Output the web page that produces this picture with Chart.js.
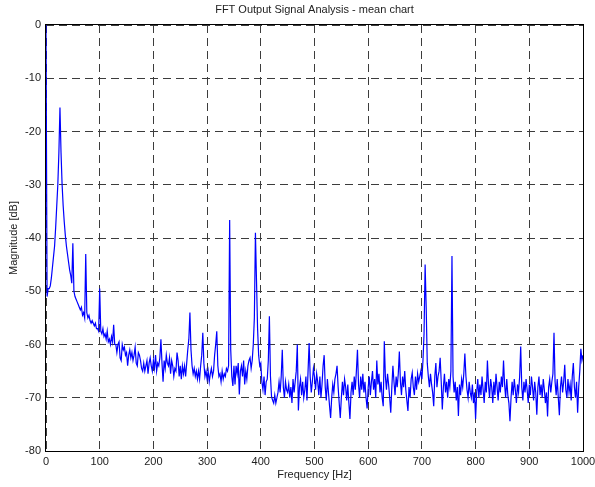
<!DOCTYPE html>
<html>
<head>
<meta charset="utf-8">
<script src="https://cdn.jsdelivr.net/npm/chart.js@4.4.1/dist/chart.umd.min.js"></script>
<style>
  html, body { margin: 0; padding: 0; background: #fff; }
  canvas { display: block; }
</style>
</head>
<body>
<canvas id="fftChart" width="595" height="487"></canvas>
<script>
const chartTitle = 'FFT Output Signal Analysis - mean chart';
const xLabel = 'Frequency [Hz]';
const yLabel = 'Magnitude [dB]';
const freqTicks = [0, 100, 200, 300, 400, 500, 600, 700, 800, 900, 1000];
const dbTicks = [-80, -70, -60, -50, -40, -30, -20, -10, 0];

// FFT bins are 2 Hz apart, one row = 50 Hz
const binHz = 2;
const magnitudeDb = [
  0, -51, -49.5, -49.5, -49, -47.5, -45.5, -43.5, -41.5, -38, -34, -30, -24, -15.5, -24, -30, -34, -37, -39.5, -41.5, -43, -44.5, -46, -47, -48.5,
  -41, -50, -51, -51.5, -52, -52.5, -53, -53.5, -53, -54.5, -54, -55, -43, -54, -55, -54.5, -55.5, -56, -55.5, -56, -56.5, -56, -57, -57, -57.5,
  -49.5, -57.5, -58, -57, -58.5, -58, -59, -57.5, -59.5, -59, -60, -58.5, -59.5, -56.3, -60, -60, -61.5, -60, -59.5, -62.5, -63, -60, -61, -60.5, -62,
  -61.5, -64, -62, -61, -62.5, -61.5, -63, -62, -60.5, -63.5, -64, -61.5, -62, -63, -64.5, -65, -63.5, -65, -64, -63, -65.5, -63.5, -62.5, -64, -65,
  -63, -64.5, -62, -65, -63.5, -64, -62.5, -59, -63.5, -67, -63, -64.5, -62, -63.5, -64, -62.5, -65.5, -63, -64, -66, -64.5, -65, -61.5, -63, -66,
  -64, -66.5, -64, -65.5, -64, -66, -63.5, -61, -59, -54, -61, -64, -65.5, -64.5, -66, -65, -66.5, -65, -66.5, -64, -62, -57.8, -63.5, -66, -65,
  -66.5, -65, -67, -65.5, -64.5, -66, -65, -62, -60, -57.5, -64, -66, -65.5, -67, -65, -66.5, -65.5, -66, -64.5, -65, -64, -36.6, -61, -66, -67.8,
  -64, -67.5, -64, -65.5, -63.5, -69.4, -65, -64, -66, -63, -67.5, -65, -66.5, -64, -63, -62.5, -64.5, -63, -60, -55, -39, -48, -57, -62, -64,
  -63.5, -67, -68.5, -66, -69.5, -67, -66.5, -63, -54.7, -66, -69.8, -70.5, -71, -69.5, -71, -70, -69, -67, -69, -66, -61, -68, -70, -67, -68.5,
  -69, -67.5, -70, -68, -71, -66.5, -69, -67, -65, -60, -72.4, -68, -66.5, -69.5, -67, -70, -68.5, -66, -70.5, -65, -59.7, -66, -69, -67, -64.5,
  -66, -68.5, -65.5, -67, -69.5, -66, -70, -67.5, -64, -62, -68, -70.5, -66.5, -69, -71.5, -73.8, -70, -67.5, -69, -66.5, -65.5, -64, -68, -71, -73.8,
  -70, -67, -69.5, -66.5, -68, -70.5, -67.5, -71, -74, -69, -67, -69.5, -66, -68.5, -65, -61, -67.5, -70, -66, -68.5, -65.5, -69, -67, -70, -72,
  -68, -66, -69.5, -67, -65, -68.5, -66.5, -70, -63, -67.5, -65.5, -69, -67, -70, -71.6, -59.4, -66, -68.5, -65.5, -67.5, -70, -72.8, -68, -64, -67,
  -69.5, -66, -68, -65.5, -61.3, -67, -69.5, -66, -68, -65, -68.5, -70.5, -72.5, -68, -70, -66.5, -65.3, -68, -69.5, -66, -68.5, -65.5, -67, -66, -65,
  -66.5, -63, -58, -45, -53, -63.5, -66, -68, -65.5, -67.5, -69, -71.6, -66, -63.5, -68, -66, -65, -62.5, -67, -72.2, -68, -65.5, -69, -67, -70,
  -66.5, -68, -65, -43.4, -66, -69, -67, -70.5, -68, -73.4, -67.5, -69.5, -66.5, -68, -65.5, -61.7, -66, -68.5, -70, -67, -69, -70, -67.5, -71, -69,
  -74, -69, -66.5, -70, -67.5, -69.5, -66, -68.5, -71, -67, -69, -63, -67.5, -70, -66.5, -68, -71, -67, -69.5, -65.5, -68, -70.5, -67, -69, -66,
  -68, -63, -67.5, -70, -66.5, -69.5, -71, -74.4, -70, -67, -69.5, -66.5, -68.5, -71, -67.5, -69, -66, -60.4, -68, -70.5, -67, -69, -66.5, -68.5, -71,
  -67.5, -69.5, -66, -68, -70.5, -67, -69, -73.2, -68, -66, -69.5, -67.5, -70, -66.5, -68.5, -71, -69, -73.5, -68, -66.5, -69, -67, -65.5, -57.8, -67,
  -69.5, -66.5, -70, -73.3, -68, -66, -69, -67, -63.8, -68.5, -70, -66.5, -69, -67.5, -70.5, -66, -63.5, -68, -70, -67, -72.8, -68, -65, -60.8, -63,
  -62
];

const points = magnitudeDb.map((v, i) => ({ x: i * binHz, y: v }));

const fontFamily = '"Liberation Sans", Arial, Helvetica, sans-serif';
const gridColor = '#3c3c3c';
const labelColor = '#222';

// MATLAB style closed box around the plot area
const boxFrame = {
  id: 'boxFrame',
  beforeDatasetsDraw(chart) {
    const { ctx, chartArea } = chart;
    const l = Math.round(chartArea.left) - 0.5;
    const t = Math.round(chartArea.top) - 0.5;
    const r = Math.round(chartArea.right) + 0.5;
    const b = Math.round(chartArea.bottom) + 0.5;
    ctx.save();
    ctx.strokeStyle = '#000';
    ctx.lineWidth = 1;
    ctx.strokeRect(l, t, r - l, b - t);
    ctx.restore();
  }
};

new Chart(document.getElementById('fftChart'), {
  type: 'line',
  data: {
    datasets: [{
      data: points,
      borderColor: '#0000ff',
      borderWidth: 1.2,
      pointRadius: 0,
      tension: 0,
      fill: false
    }]
  },
  options: {
    responsive: false,
    animation: false,
    devicePixelRatio: 1,
    layout: { padding: { left: 0, right: 12, top: 0, bottom: 0 } },
    plugins: {
      legend: { display: false },
      tooltip: { enabled: false },
      title: {
        display: true,
        fullSize: false,
        text: chartTitle,
        color: labelColor,
        font: { family: fontFamily, size: 11, weight: 'normal' },
        padding: { top: 3, bottom: 8.8 }
      }
    },
    scales: {
      x: {
        type: 'linear',
        min: 0,
        max: 1000,
        afterBuildTicks: scale => { scale.ticks = freqTicks.map(v => ({ value: v })); },
        afterFit: scale => {
          scale.height = 36;
          // let "1000" hang over the right padding instead of shrinking the plot
          scale.paddingRight = 0;
          scale.paddingLeft = 0;
        },
        ticks: {
          color: labelColor,
          font: { family: fontFamily, size: 11 },
          padding: 4,
          maxRotation: 0,
          autoSkip: false,
          callback: v => String(v)
        },
        grid: { color: gridColor, lineWidth: 1, drawTicks: false },
        border: { display: false, dash: [8, 5] },
        title: {
          display: true,
          text: xLabel,
          color: labelColor,
          font: { family: fontFamily, size: 11 },
          padding: { top: 0, bottom: 5 }
        }
      },
      y: {
        type: 'linear',
        min: -80,
        max: 0,
        afterBuildTicks: scale => { scale.ticks = dbTicks.map(v => ({ value: v })); },
        afterFit: scale => { scale.width = 46; },
        ticks: {
          color: labelColor,
          font: { family: fontFamily, size: 11 },
          padding: 5,
          callback: v => String(v)
        },
        grid: { color: gridColor, lineWidth: 1, drawTicks: false },
        border: { display: false, dash: [8, 5] },
        title: {
          display: true,
          text: yLabel,
          color: labelColor,
          font: { family: fontFamily, size: 11 },
          padding: { top: 7, bottom: 0 }
        }
      }
    }
  },
  plugins: [boxFrame]
});
</script>
</body>
</html>
